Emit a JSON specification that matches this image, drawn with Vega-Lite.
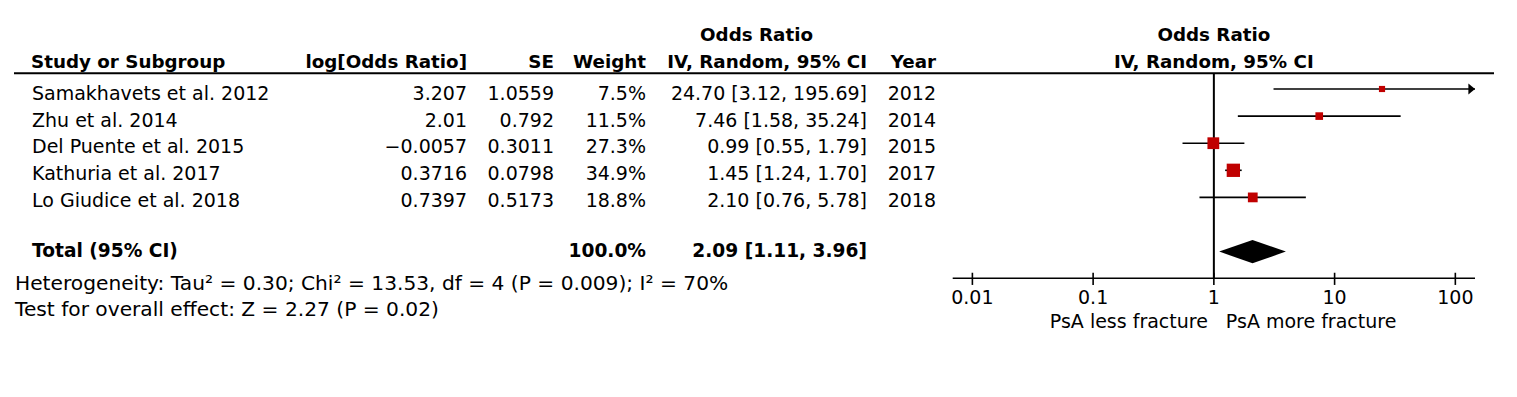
{
  "$schema": "https://vega.github.io/schema/vega-lite/v6.json",
  "padding": {"left": 13, "top": 0, "right": 24, "bottom": 0},
  "spacing": 0,
  "bounds": "flush",
  "config": {
    "view": {"stroke": null},
    "text": {"font": "DejaVu Sans", "fontSize": 19, "color": "black", "baseline": "alphabetic"},
    "rule": {"color": "black"}
  },
  "datasets": {
    "studies": [
      {"study": "Samakhavets et al. 2012", "logOR": 3.207, "se": 1.0559, "weight": 0.075, "or": 24.70, "lo": 3.12, "hi": 195.69, "ci": "24.70 [3.12, 195.69]", "year": "2012", "row": 1},
      {"study": "Zhu et al. 2014", "logOR": 2.01, "se": 0.792, "weight": 0.115, "or": 7.46, "lo": 1.58, "hi": 35.24, "ci": "7.46 [1.58, 35.24]", "year": "2014", "row": 2},
      {"study": "Del Puente et al. 2015", "logOR": -0.0057, "se": 0.3011, "weight": 0.273, "or": 0.99, "lo": 0.55, "hi": 1.79, "ci": "0.99 [0.55, 1.79]", "year": "2015", "row": 3},
      {"study": "Kathuria et al. 2017", "logOR": 0.3716, "se": 0.0798, "weight": 0.349, "or": 1.45, "lo": 1.24, "hi": 1.70, "ci": "1.45 [1.24, 1.70]", "year": "2017", "row": 4},
      {"study": "Lo Giudice et al. 2018", "logOR": 0.7397, "se": 0.5173, "weight": 0.188, "or": 2.10, "lo": 0.76, "hi": 5.78, "ci": "2.10 [0.76, 5.78]", "year": "2018", "row": 5}
    ],
    "total": [
      {"study": "Total (95% CI)", "weight": 1.0, "or": 2.09, "lo": 1.11, "hi": 3.96, "ci": "2.09 [1.11, 3.96]", "row": 7}
    ],
    "ticks": [
      {"v": 0.01, "label": "0.01"},
      {"v": 0.1, "label": "0.1"},
      {"v": 1, "label": "1"},
      {"v": 10, "label": "10"},
      {"v": 100, "label": "100"}
    ]
  },
  "hconcat": [
    {
      "width": 287, "height": 397,
      "layer": [
        {"data": {"values": [{}]}, "mark": {"type": "rule", "strokeWidth": 2},
         "encoding": {"y": {"datum": 0, "type": "quantitative", "scale": {"domain": [-2.738, 12.103], "reverse": true, "nice": false, "zero": false}, "axis": null}}},
        {"data": {"values": [{}]}, "mark": {"type": "text", "align": "left", "fontWeight": "bold", "fontSize": 18.3, "dx": 17},
         "encoding": {"text": {"value": "Study or Subgroup"},
           "x": {"datum": 0, "type": "quantitative", "scale": {"domain": [0, 1], "nice": false, "zero": false}, "axis": null},
           "y": {"datum": -0.19, "type": "quantitative"}}},
        {"data": {"name": "studies"}, "mark": {"type": "text", "align": "left", "dx": 18},
         "encoding": {"text": {"field": "study", "type": "nominal"},
           "x": {"datum": 0, "type": "quantitative"},
           "y": {"field": "row", "type": "quantitative"}}},
        {"data": {"name": "total"}, "mark": {"type": "text", "align": "left", "fontWeight": "bold", "fontSize": 18.6, "dx": 18, "dy": -3},
         "encoding": {"text": {"field": "study", "type": "nominal"},
           "x": {"datum": 0, "type": "quantitative"},
           "y": {"field": "row", "type": "quantitative"}}},
        {"data": {"values": [{}]}, "mark": {"type": "text", "align": "left", "dx": 1, "fontSize": 20.2},
         "encoding": {"text": {"value": "Heterogeneity: Tau² = 0.30; Chi² = 13.53, df = 4 (P = 0.009); I² = 70%"},
           "x": {"datum": 0, "type": "quantitative"},
           "y": {"datum": 8.1, "type": "quantitative"}}},
        {"data": {"values": [{}]}, "mark": {"type": "text", "align": "left", "dx": 1, "fontSize": 20.2},
         "encoding": {"text": {"value": "Test for overall effect: Z = 2.27 (P = 0.02)"},
           "x": {"datum": 0, "type": "quantitative"},
           "y": {"datum": 9.07, "type": "quantitative"}}}
      ]
    },
    {
      "width": 166, "height": 397,
      "layer": [
        {"data": {"values": [{}]}, "mark": {"type": "rule", "strokeWidth": 2},
         "encoding": {"y": {"datum": 0, "type": "quantitative", "scale": {"domain": [-2.738, 12.103], "reverse": true, "nice": false, "zero": false}, "axis": null}}},
        {"data": {"values": [{}]}, "mark": {"type": "text", "align": "right", "fontWeight": "bold", "fontSize": 18.3},
         "encoding": {"text": {"value": "log[Odds Ratio]"},
           "x": {"datum": 1, "type": "quantitative", "scale": {"domain": [0, 1], "nice": false, "zero": false}, "axis": null},
           "y": {"datum": -0.19, "type": "quantitative"}}},
        {"data": {"name": "studies"}, "mark": {"type": "text", "align": "right"},
         "encoding": {"text": {"field": "logOR", "type": "quantitative", "format": "~g"},
           "x": {"datum": 1, "type": "quantitative"},
           "y": {"field": "row", "type": "quantitative"}}}
      ]
    },
    {
      "width": 87, "height": 397,
      "layer": [
        {"data": {"values": [{}]}, "mark": {"type": "rule", "strokeWidth": 2},
         "encoding": {"y": {"datum": 0, "type": "quantitative", "scale": {"domain": [-2.738, 12.103], "reverse": true, "nice": false, "zero": false}, "axis": null}}},
        {"data": {"values": [{}]}, "mark": {"type": "text", "align": "right", "fontWeight": "bold", "fontSize": 18.3},
         "encoding": {"text": {"value": "SE"},
           "x": {"datum": 1, "type": "quantitative", "scale": {"domain": [0, 1], "nice": false, "zero": false}, "axis": null},
           "y": {"datum": -0.19, "type": "quantitative"}}},
        {"data": {"name": "studies"}, "mark": {"type": "text", "align": "right"},
         "encoding": {"text": {"field": "se", "type": "quantitative", "format": "~g"},
           "x": {"datum": 1, "type": "quantitative"},
           "y": {"field": "row", "type": "quantitative"}}}
      ]
    },
    {
      "width": 92, "height": 397,
      "layer": [
        {"data": {"values": [{}]}, "mark": {"type": "rule", "strokeWidth": 2},
         "encoding": {"y": {"datum": 0, "type": "quantitative", "scale": {"domain": [-2.738, 12.103], "reverse": true, "nice": false, "zero": false}, "axis": null}}},
        {"data": {"values": [{}]}, "mark": {"type": "text", "align": "right", "fontWeight": "bold", "fontSize": 18.3},
         "encoding": {"text": {"value": "Weight"},
           "x": {"datum": 1, "type": "quantitative", "scale": {"domain": [0, 1], "nice": false, "zero": false}, "axis": null},
           "y": {"datum": -0.19, "type": "quantitative"}}},
        {"data": {"name": "studies"}, "mark": {"type": "text", "align": "right"},
         "encoding": {"text": {"field": "weight", "type": "quantitative", "format": ".1%"},
           "x": {"datum": 1, "type": "quantitative"},
           "y": {"field": "row", "type": "quantitative"}}},
        {"data": {"name": "total"}, "mark": {"type": "text", "align": "right", "fontWeight": "bold", "fontSize": 18.6, "dy": -3},
         "encoding": {"text": {"field": "weight", "type": "quantitative", "format": ".1%"},
           "x": {"datum": 1, "type": "quantitative"},
           "y": {"field": "row", "type": "quantitative"}}}
      ]
    },
    {
      "width": 221, "height": 397,
      "layer": [
        {"data": {"values": [{}]}, "mark": {"type": "rule", "strokeWidth": 2},
         "encoding": {"y": {"datum": 0, "type": "quantitative", "scale": {"domain": [-2.738, 12.103], "reverse": true, "nice": false, "zero": false}, "axis": null}}},
        {"data": {"values": [{}]}, "mark": {"type": "text", "align": "center", "fontWeight": "bold", "fontSize": 18.3},
         "encoding": {"text": {"value": "Odds Ratio"},
           "x": {"datum": 0.5, "type": "quantitative", "scale": {"domain": [0, 1], "nice": false, "zero": false}, "axis": null},
           "y": {"datum": -1.2, "type": "quantitative"}}},
        {"data": {"values": [{}]}, "mark": {"type": "text", "align": "right", "fontWeight": "bold", "fontSize": 18.3},
         "encoding": {"text": {"value": "IV, Random, 95% CI"},
           "x": {"datum": 1, "type": "quantitative"},
           "y": {"datum": -0.19, "type": "quantitative"}}},
        {"data": {"name": "studies"}, "mark": {"type": "text", "align": "right"},
         "encoding": {"text": {"field": "ci", "type": "nominal"},
           "x": {"datum": 1, "type": "quantitative"},
           "y": {"field": "row", "type": "quantitative"}}},
        {"data": {"name": "total"}, "mark": {"type": "text", "align": "right", "fontWeight": "bold", "fontSize": 18.6, "dy": -3},
         "encoding": {"text": {"field": "ci", "type": "nominal"},
           "x": {"datum": 1, "type": "quantitative"},
           "y": {"field": "row", "type": "quantitative"}}}
      ]
    },
    {
      "width": 69, "height": 397,
      "layer": [
        {"data": {"values": [{}]}, "mark": {"type": "rule", "strokeWidth": 2},
         "encoding": {"y": {"datum": 0, "type": "quantitative", "scale": {"domain": [-2.738, 12.103], "reverse": true, "nice": false, "zero": false}, "axis": null}}},
        {"data": {"values": [{}]}, "mark": {"type": "text", "align": "right", "fontWeight": "bold", "fontSize": 18.3},
         "encoding": {"text": {"value": "Year"},
           "x": {"datum": 1, "type": "quantitative", "scale": {"domain": [0, 1], "nice": false, "zero": false}, "axis": null},
           "y": {"datum": -0.19, "type": "quantitative"}}},
        {"data": {"name": "studies"}, "mark": {"type": "text", "align": "right"},
         "encoding": {"text": {"field": "year", "type": "nominal"},
           "x": {"datum": 1, "type": "quantitative"},
           "y": {"field": "row", "type": "quantitative"}}}
      ]
    },
    {
      "width": 558, "height": 397,
      "layer": [
        {"data": {"values": [{}]}, "mark": {"type": "rule", "strokeWidth": 2},
         "encoding": {"y": {"datum": 0.419, "type": "quantitative", "scale": {"domain": [-2.284, 12.365], "reverse": true, "nice": false, "zero": false}, "axis": null}}},
        {"data": {"values": [{}]}, "mark": {"type": "text", "align": "center", "fontWeight": "bold", "fontSize": 18.3},
         "encoding": {"text": {"value": "Odds Ratio"},
           "x": {"datum": 1, "type": "quantitative", "scale": {"type": "log", "domain": [0.00687, 145.5], "range": [16.7, 539], "clamp": true, "nice": false}, "axis": null},
           "y": {"datum": -0.771, "type": "quantitative"}}},
        {"data": {"values": [{}]}, "mark": {"type": "text", "align": "center", "fontWeight": "bold", "fontSize": 18.3},
         "encoding": {"text": {"value": "IV, Random, 95% CI"},
           "x": {"datum": 1, "type": "quantitative"},
           "y": {"datum": 0.236, "type": "quantitative"}}},
        {"data": {"values": [{}]}, "mark": {"type": "rule", "strokeWidth": 2},
         "encoding": {"x": {"datum": 1, "type": "quantitative"},
           "y": {"datum": 0.419, "type": "quantitative"},
           "y2": {"datum": 7.985}}},
        {"data": {"name": "studies"}, "mark": {"type": "rule", "strokeWidth": 1.6},
         "encoding": {"x": {"field": "lo", "type": "quantitative"},
           "x2": {"field": "hi"},
           "y": {"field": "row", "type": "quantitative"}}},
        {"data": {"name": "studies"}, "transform": [{"filter": "datum.hi > 145.5"}],
         "mark": {"type": "point", "shape": "M-1.2,-1L0,0L-1.2,1Z", "filled": true, "color": "black", "opacity": 1, "size": 121, "strokeWidth": 0},
         "encoding": {"x": {"field": "hi", "type": "quantitative"},
           "y": {"field": "row", "type": "quantitative"}}},
        {"data": {"name": "studies"},
         "mark": {"type": "point", "shape": "square", "filled": true, "color": "#c00000", "opacity": 1, "strokeWidth": 0},
         "encoding": {"x": {"field": "or", "type": "quantitative"},
           "y": {"field": "row", "type": "quantitative"},
           "size": {"field": "weight", "type": "quantitative", "scale": {"domain": [0, 0.349], "range": [0, 177], "zero": true}, "legend": null}}},
        {"data": {"name": "total"},
         "mark": {"type": "point", "shape": "M-1,0L0,-0.35L1,0L0,0.35Z", "filled": true, "color": "black", "opacity": 1, "size": 4449, "strokeWidth": 0},
         "encoding": {"x": {"field": "or", "type": "quantitative"},
           "y": {"field": "row", "type": "quantitative"}}},
        {"data": {"values": [{}]}, "mark": {"type": "rule", "strokeWidth": 1.6},
         "encoding": {"x": {"datum": 0.00687, "type": "quantitative"},
           "x2": {"datum": 145.5},
           "y": {"datum": 7.985, "type": "quantitative"}}},
        {"data": {"name": "ticks"}, "mark": {"type": "rule", "strokeWidth": 1.6},
         "encoding": {"x": {"field": "v", "type": "quantitative"},
           "y": {"datum": 7.78, "type": "quantitative"},
           "y2": {"datum": 8.23}}},
        {"data": {"name": "ticks"}, "mark": {"type": "text", "align": "center"},
         "encoding": {"text": {"field": "label", "type": "nominal"},
           "x": {"field": "v", "type": "quantitative"},
           "y": {"datum": 8.93, "type": "quantitative"}}},
        {"data": {"values": [{}]}, "mark": {"type": "text", "align": "right", "dx": -6},
         "encoding": {"text": {"value": "PsA less fracture"},
           "x": {"datum": 1, "type": "quantitative"},
           "y": {"datum": 9.82, "type": "quantitative"}}},
        {"data": {"values": [{}]}, "mark": {"type": "text", "align": "left", "dx": 12},
         "encoding": {"text": {"value": "PsA more fracture"},
           "x": {"datum": 1, "type": "quantitative"},
           "y": {"datum": 9.82, "type": "quantitative"}}}
      ]
    }
  ]
}
